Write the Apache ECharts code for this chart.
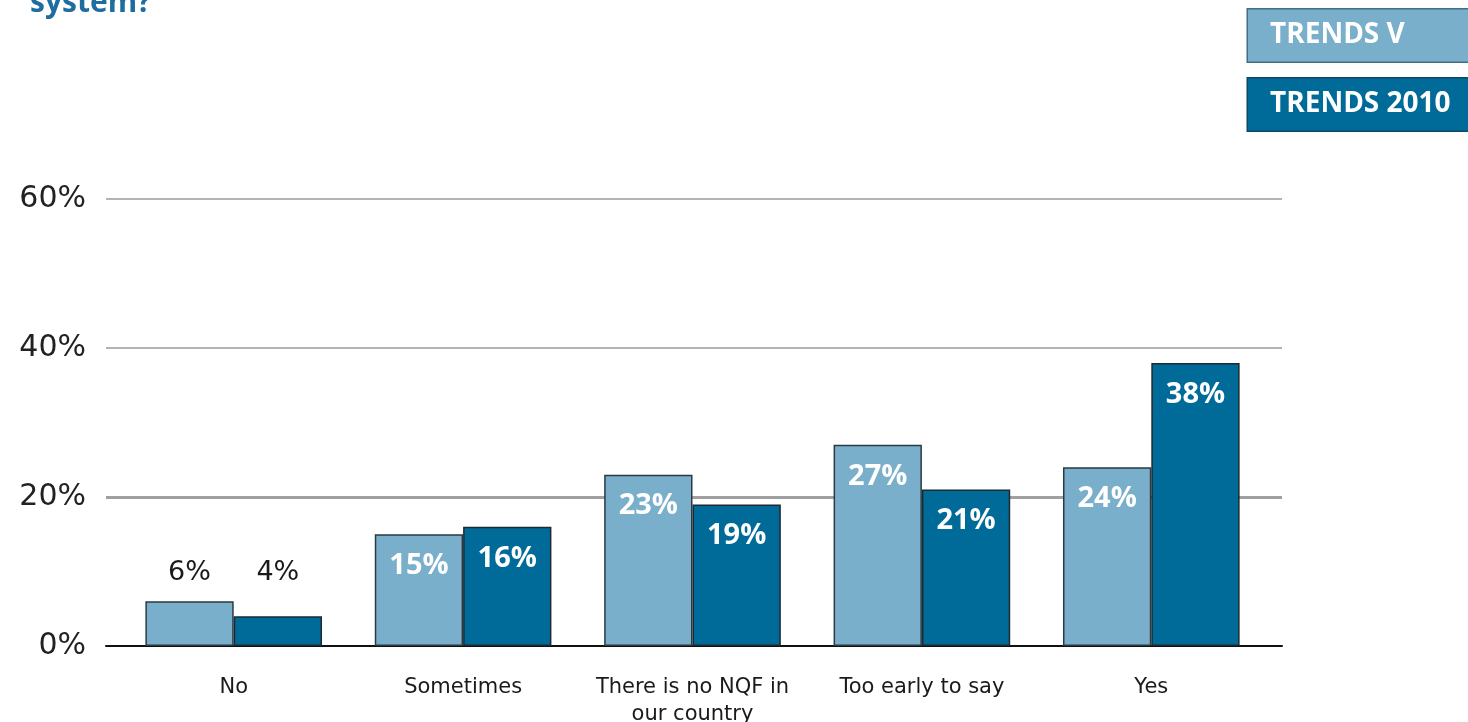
<!DOCTYPE html>
<html>
<head>
<meta charset="utf-8">
<script src="https://cdn.jsdelivr.net/npm/echarts@6/dist/echarts.min.js"></script>
<style>html,body{margin:0;padding:0;background:#fff;}#c{width:1468px;height:722px;}</style>
</head>
<body>
<div id="c"></div>
<script>
const categories = ['No', 'Sometimes', 'There is no NQF in\nour country', 'Too early to say', 'Yes'];
const seriesNames = ['TRENDS V', 'TRENDS 2010'];
const trendsV = [6, 15, 23, 27, 24];
const trends2010 = [4, 16, 19, 21, 38];
const yTicks = [0, 20, 40, 60];

const LIGHT = '#79afca';
const DARK = '#006b98';
const FONT = '"DejaVu Sans", sans-serif';
const BOLD = '"Open Sans", sans-serif';

const chart = echarts.init(document.getElementById('c'), null, {renderer: 'canvas'});

function barData(values, outsideDist) {
  return values.map((v, i) => {
    const item = {value: v};
    if (v < 10) {
      item.label = {
        position: 'top', distance: outsideDist, color: '#1a1a1a',
        fontFamily: FONT, fontWeight: 'normal', fontSize: 27
      };
    }
    return item;
  });
}

const option = {
  animation: false,
  backgroundColor: '#ffffff',
  graphic: [{
    type: 'text', left: 30, top: -12,
    style: {text: 'system?', font: 'bold 30px "Open Sans", sans-serif', fill: '#1f6da0'}
  }],
  legend: {
    orient: 'vertical', left: 1243, top: 8, itemGap: 14, padding: 0,
    itemWidth: 0, itemHeight: 0, icon: 'none', selectedMode: false,
    data: [
      {name: seriesNames[0], textStyle: {backgroundColor: LIGHT, color: '#fff', fontFamily: BOLD, fontWeight: 'bold', fontSize: 28, padding: [12, 80, 12, 22], borderColor: '#3f6e85', borderWidth: 1.5}},
      {name: seriesNames[1], textStyle: {backgroundColor: DARK, color: '#fff', fontFamily: BOLD, fontWeight: 'bold', fontSize: 28, padding: [12, 30, 12, 22], borderColor: '#0b4a66', borderWidth: 1.5}}
    ]
  },
  grid: [
    {left: 106, right: 186, top: 199, bottom: 76, outerBoundsMode: 'none', containLabel: false},
    {left: 119, right: 202, top: 199, bottom: 76, outerBoundsMode: 'none', containLabel: false}
  ],
  xAxis: [
    {type: 'value', gridIndex: 0, min: 0, max: 1, show: true,
     axisLine: {show: true, onZero: false, lineStyle: {color: '#111', width: 2}},
     axisTick: {show: false}, axisLabel: {show: false}, splitLine: {show: false}},
    {type: 'category', gridIndex: 1, data: categories,
     axisLine: {show: false}, axisTick: {show: false},
     axisLabel: {margin: 28, color: '#1a1a1a', fontFamily: FONT, fontSize: 21, lineHeight: 27, interval: 0}}
  ],
  yAxis: [
    {type: 'value', gridIndex: 0, min: 0, max: 60, interval: 20,
     axisLine: {show: false}, axisTick: {show: false},
     axisLabel: {formatter: '{value}%', margin: 20, color: '#222', fontFamily: FONT, fontSize: 30, padding: [0, 0, 20, 0]},
     splitLine: {show: true, lineStyle: {color: '#9a9a9a', width: 1.5}}},
    {type: 'value', gridIndex: 1, min: 0, max: 60, interval: 20, show: false}
  ],
  series: [
    {
      type: 'line', xAxisIndex: 0, yAxisIndex: 0, data: [], z: 1, silent: true,
      markLine: {
        silent: true, symbol: 'none', label: {show: false}, z: 1,
        lineStyle: {color: '#a0a0a0', width: 3, type: 'solid'},
        data: [{yAxis: yTicks[1]}]
      }
    },
    {
      name: seriesNames[0], type: 'bar', xAxisIndex: 1, yAxisIndex: 1, z: 10,
      barGap: '0%', barCategoryGap: '23%',
      data: barData(trendsV, 15),
      itemStyle: {color: LIGHT, borderColor: '#2b3a42', borderWidth: 1.5},
      label: {show: true, position: 'insideTop', distance: 17, formatter: '{c}%', color: '#fff', fontFamily: BOLD, fontWeight: 'bold', fontSize: 29}
    },
    {
      name: seriesNames[1], type: 'bar', xAxisIndex: 1, yAxisIndex: 1, z: 10,
      data: barData(trends2010, 30),
      itemStyle: {color: DARK, borderColor: '#1c2a31', borderWidth: 1.5},
      label: {show: true, position: 'insideTop', distance: 17, formatter: '{c}%', color: '#fff', fontFamily: BOLD, fontWeight: 'bold', fontSize: 29}
    }
  ]
};
chart.setOption(option);
</script>
</body>
</html>
